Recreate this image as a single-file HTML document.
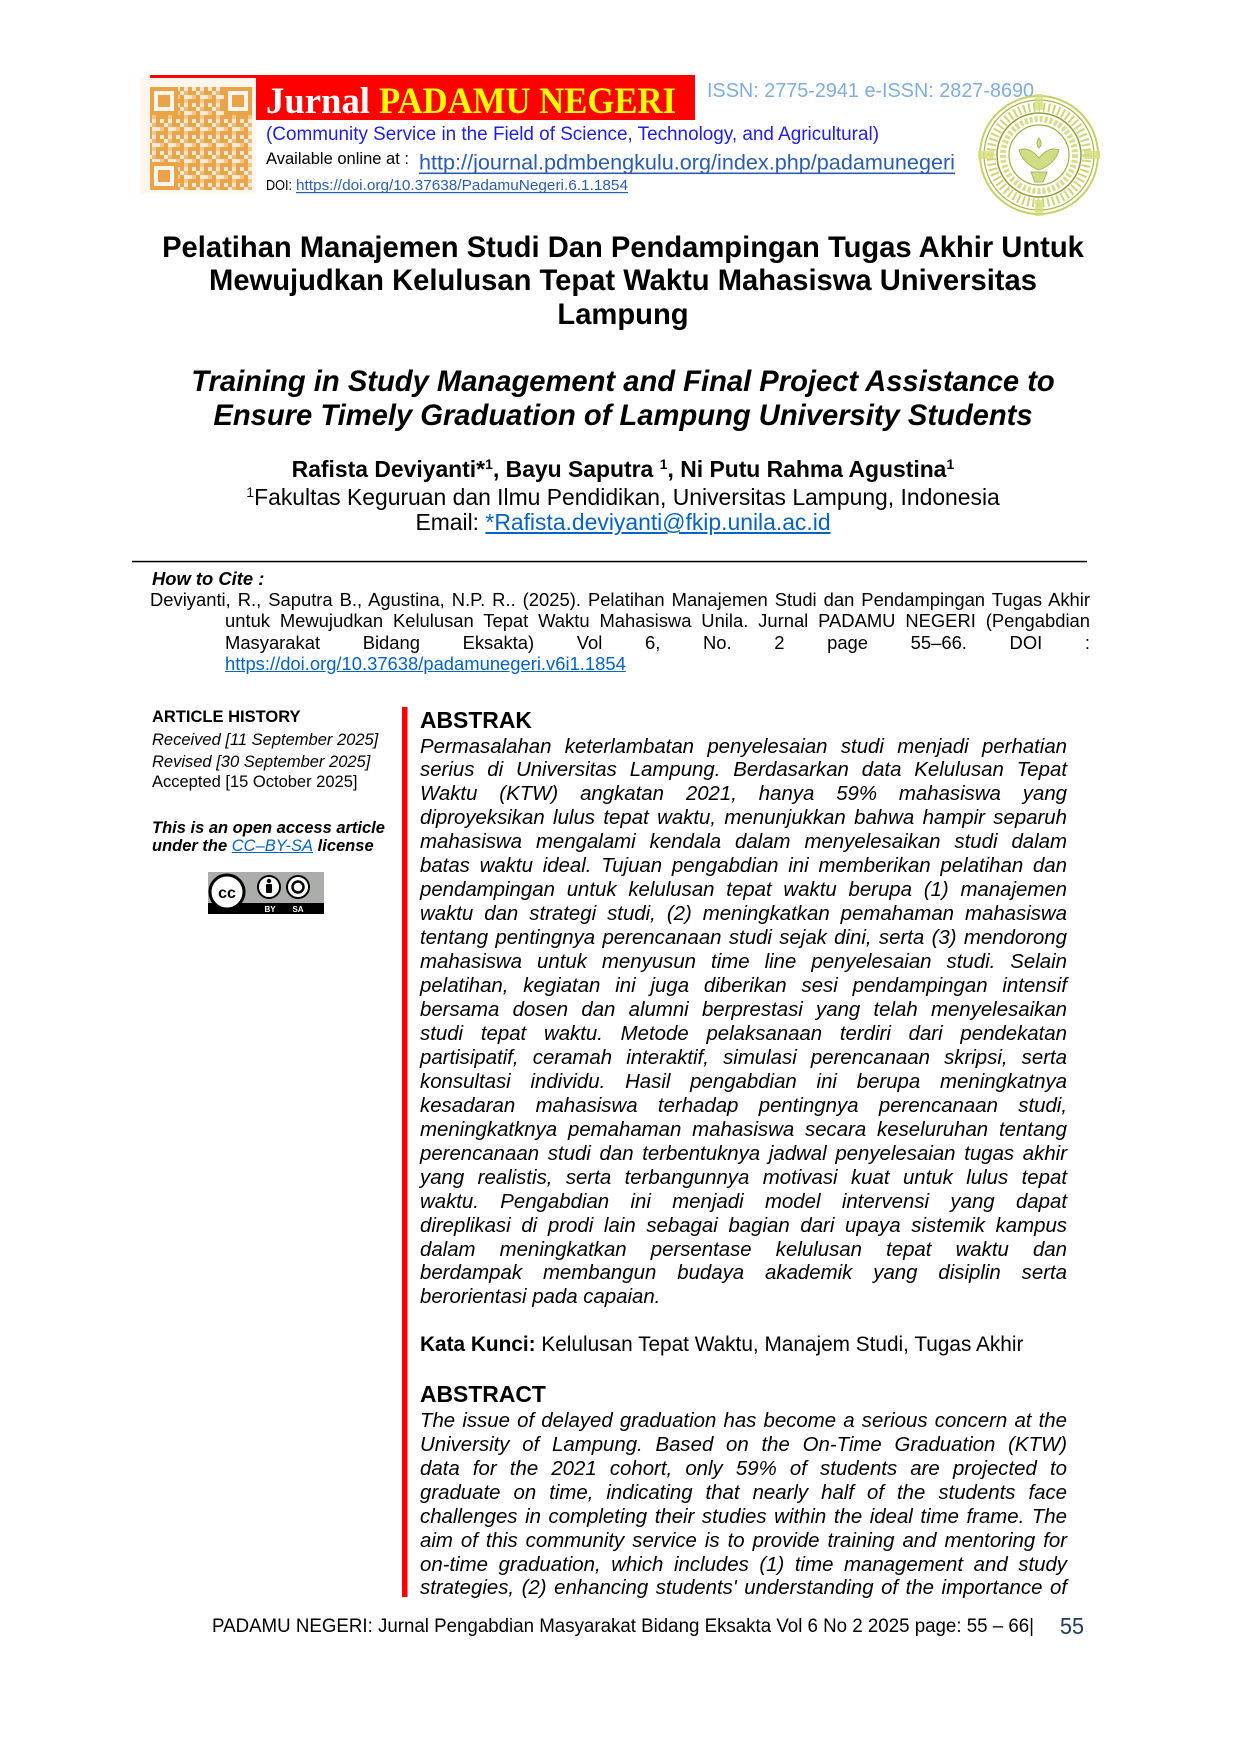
<!DOCTYPE html>
<html><head><meta charset="utf-8">
<style>
html,body{margin:0;padding:0;background:#fff;}
#pg{position:relative;width:1240px;height:1754px;overflow:hidden;font-family:"Liberation Sans",Arial,sans-serif;color:#000;background:#fff;}
.a{position:absolute;white-space:nowrap;line-height:1;}
.c{left:0;width:1246px;text-align:center;}
.j{position:absolute;text-align:justify;text-align-last:justify;}
.lk{color:#0563c1;text-decoration:underline;}
sup{font-size:0.62em;vertical-align:0.55em;line-height:0;}
svg{position:absolute;left:0;top:0;}
</style></head><body><div id="pg">
<svg width="1240" height="1754" viewBox="0 0 1240 1754" xmlns="http://www.w3.org/2000/svg">
<defs>
<pattern id="qr" x="148" y="87" width="16" height="16" patternUnits="userSpaceOnUse">
<rect width="16" height="16" fill="#f8ead6"/>
<rect x="0" y="0" width="4" height="4" fill="#eaa447"/>
<rect x="8" y="0" width="4" height="8" fill="#eaa447"/>
<rect x="4" y="4" width="4" height="4" fill="#f0bb70"/>
<rect x="12" y="4" width="4" height="4" fill="#eaa447"/>
<rect x="0" y="8" width="4" height="8" fill="#eaa447"/>
<rect x="8" y="12" width="8" height="4" fill="#eaa447"/>
<rect x="12" y="8" width="4" height="4" fill="#f3c98a"/>
<rect x="4" y="12" width="4" height="4" fill="#f3c98a"/>
</pattern>
</defs>
<!-- red banner -->
<rect x="150" y="75" width="545" height="45" fill="#ff0000"/>
<!-- QR -->
<rect x="140" y="78" width="116" height="116" fill="#fcf6ee"/>
<rect x="150" y="87" width="102" height="103" fill="url(#qr)"/>
<g fill="#eaa447">
<rect x="150" y="87" width="28" height="28"/><rect x="154" y="91" width="20" height="20" fill="#fcf6ee"/><rect x="158" y="95" width="12" height="12"/>
<rect x="224" y="87" width="28" height="28"/><rect x="228" y="91" width="20" height="20" fill="#fcf6ee"/><rect x="232" y="95" width="12" height="12"/>
<rect x="150" y="162" width="28" height="28"/><rect x="154" y="166" width="20" height="20" fill="#fcf6ee"/><rect x="158" y="170" width="12" height="12"/>
</g>
<!-- banner text -->
<text x="266" y="113" font-family="Liberation Serif, serif" font-weight="bold" font-size="37" fill="#ffffff" textLength="104" lengthAdjust="spacingAndGlyphs">Jurnal</text>
<text x="379" y="113" font-family="Liberation Serif, serif" font-weight="bold" font-size="37" fill="#ffff00" textLength="297" lengthAdjust="spacingAndGlyphs">PADAMU NEGERI</text>
<text x="707" y="97" font-family="Liberation Sans, sans-serif" font-size="20" fill="#7eaee0" textLength="327" lengthAdjust="spacingAndGlyphs">ISSN: 2775-2941 e-ISSN: 2827-8690</text>
<text x="266" y="140" font-family="Liberation Sans, sans-serif" font-size="19" fill="#1f1fe0" textLength="613" lengthAdjust="spacingAndGlyphs">(Community Service in the Field of Science, Technology, and Agricultural)</text>
<text x="266" y="164" font-family="Liberation Sans, sans-serif" font-size="17" fill="#000" textLength="143" lengthAdjust="spacingAndGlyphs">Available online at :</text>
<text x="419" y="169.5" font-family="Liberation Sans, sans-serif" font-size="21" fill="#2a5db0" textLength="536" lengthAdjust="spacingAndGlyphs">http://journal.pdmbengkulu.org/index.php/padamunegeri</text>
<rect x="419" y="172.5" width="536" height="1.6" fill="#2a5db0"/>
<text x="266" y="190" font-family="Liberation Sans, sans-serif" font-size="15" fill="#000" textLength="26" lengthAdjust="spacingAndGlyphs">DOI:</text>
<text x="296" y="190" font-family="Liberation Sans, sans-serif" font-size="15" fill="#2a5db0" textLength="332" lengthAdjust="spacingAndGlyphs">https://doi.org/10.37638/PadamuNegeri.6.1.1854</text>
<rect x="296" y="192" width="332" height="1.2" fill="#2a5db0"/>
<!-- logo -->
<g fill="none">
<circle cx="1039" cy="155" r="59" stroke="#c9cf62" stroke-width="2"/>
<circle cx="1039" cy="155" r="55" stroke="#a7b440" stroke-width="1.2"/>
<circle cx="1039" cy="155" r="48" stroke="#c3cb55" stroke-width="9" stroke-dasharray="2 3" opacity="0.8"/>
<circle cx="1039" cy="155" r="42" stroke="#8f9e32" stroke-width="1.5"/>
<circle cx="1039" cy="155" r="36" stroke="#c6cf5a" stroke-width="6" stroke-dasharray="3 2" opacity="0.7"/>
<circle cx="1039" cy="155" r="30" stroke="#9fae3c" stroke-width="1.2"/>
</g>
<g fill="#d6de7c" opacity="0.8">
<rect x="1035" y="94" width="8" height="16"/><rect x="1035" y="200" width="8" height="16"/>
<rect x="978" y="151" width="16" height="8"/><rect x="1084" y="151" width="16" height="8"/>
</g>
<path d="M1039 138 q-4 6 0 10 q4-4 0-10z M1019 150 q10 -4 20 8 q10 -12 20 -8 q-4 14 -20 20 q-16 -6 -20 -20z M1031 172 h16 l-4 10 h-8z" fill="#cbd670" stroke="#9aab3a" stroke-width="1" opacity="0.85"/>
<!-- HR -->
<rect x="132" y="560.8" width="955" height="1.5" fill="#000"/>
<!-- red bar -->
<rect x="402" y="707" width="5.5" height="890" fill="#ff0000"/>
<!-- CC badge -->
<rect x="208" y="872" width="116" height="42" fill="#abadaa"/>
<rect x="208" y="903" width="116" height="11" fill="#000"/>
<circle cx="227" cy="892" r="17" fill="#fff" stroke="#000" stroke-width="3"/>
<text x="227" y="898" text-anchor="middle" font-family="Liberation Sans, sans-serif" font-weight="bold" font-size="16" fill="#000">cc</text>
<circle cx="269" cy="887" r="11" fill="#fff" stroke="#000" stroke-width="2"/>
<circle cx="269" cy="881" r="2.2" fill="#000"/>
<rect x="266" y="884" width="6" height="9" rx="1" fill="#000"/>
<circle cx="298" cy="887" r="11" fill="#fff" stroke="#000" stroke-width="2"/>
<circle cx="298" cy="887" r="5.5" fill="none" stroke="#000" stroke-width="2.5"/>
<text x="270" y="912" text-anchor="middle" font-family="Liberation Sans, sans-serif" font-weight="bold" font-size="8" fill="#fff">BY</text>
<text x="298" y="912" text-anchor="middle" font-family="Liberation Sans, sans-serif" font-weight="bold" font-size="8" fill="#fff">SA</text>
<!-- footer -->
<text x="212" y="1632" font-family="Liberation Sans, sans-serif" font-size="19" fill="#000" textLength="822" lengthAdjust="spacingAndGlyphs">PADAMU NEGERI: Jurnal Pengabdian Masyarakat Bidang Eksakta Vol 6 No 2 2025 page: 55 – 66|</text>
<text x="1060" y="1634" font-family="Liberation Sans, sans-serif" font-size="23" fill="#1f3864" textLength="24" lengthAdjust="spacingAndGlyphs">55</text>
</svg>

<!-- Titles -->
<div class="a c" style="top:233.7px;font-size:29.17px;font-weight:bold;">Pelatihan Manajemen Studi Dan Pendampingan Tugas Akhir Untuk</div>
<div class="a c" style="top:266.7px;font-size:29.17px;font-weight:bold;">Mewujudkan Kelulusan Tepat Waktu Mahasiswa Universitas</div>
<div class="a c" style="top:300.7px;font-size:29.17px;font-weight:bold;">Lampung</div>
<div class="a c" style="top:367.8px;font-size:29.17px;font-weight:bold;font-style:italic;">Training in Study Management and Final Project Assistance to</div>
<div class="a c" style="top:401.8px;font-size:29.17px;font-weight:bold;font-style:italic;">Ensure Timely Graduation of Lampung University Students</div>
<div class="a c" style="top:457.6px;font-size:22.9px;font-weight:bold;">Rafista Deviyanti*<sup>1</sup>, Bayu Saputra <sup>1</sup>, Ni Putu Rahma Agustina<sup>1</sup></div>
<div class="a c" style="top:485.6px;font-size:22.9px;"><sup>1</sup>Fakultas Keguruan dan Ilmu Pendidikan, Universitas Lampung, Indonesia</div>
<div class="a c" style="top:511.2px;font-size:22.9px;">Email: <span class="lk">*Rafista.deviyanti@fkip.unila.ac.id</span></div>

<!-- How to cite -->
<div class="a" style="left:152px;top:570.2px;font-size:18.4px;font-weight:bold;font-style:italic;">How to Cite :</div>
<div class="j" style="left:150px;top:590.9px;width:940px;font-size:18.4px;line-height:1;">Deviyanti, R., Saputra B., Agustina, N.P. R.. (2025). Pelatihan Manajemen Studi dan Pendampingan Tugas Akhir</div>
<div class="j" style="left:225px;top:611.9px;width:865px;font-size:18.4px;line-height:1;">untuk Mewujudkan Kelulusan Tepat Waktu Mahasiswa Unila. Jurnal PADAMU NEGERI (Pengabdian</div>
<div class="j" style="left:225px;top:633.9px;width:865px;font-size:18.4px;line-height:1;">Masyarakat Bidang Eksakta) Vol 6, No. 2 page 55–66. DOI :</div>
<div class="a" style="left:225px;top:654.9px;font-size:18.4px;"><span class="lk">https://doi.org/10.37638/padamunegeri.v6i1.1854</span></div>

<!-- Left column -->
<div class="a" style="left:152px;top:709px;font-size:16.5px;font-weight:bold;">ARTICLE HISTORY</div>
<div class="a" style="left:152px;top:732px;font-size:16.5px;font-style:italic;">Received [11 September 2025]</div>
<div class="a" style="left:152px;top:754px;font-size:16.5px;font-style:italic;">Revised [30 September 2025]</div>
<div class="a" style="left:152px;top:774px;font-size:16.5px;">Accepted [15 October 2025]</div>
<div class="a" style="left:152px;top:820px;font-size:16.5px;font-weight:bold;font-style:italic;">This is an open access article</div>
<div class="a" style="left:152px;top:838px;font-size:16.5px;font-weight:bold;font-style:italic;">under the <span class="lk" style="font-weight:normal;">CC–BY-SA</span> license</div>

<!-- ABSTRAK -->
<div class="a" style="left:420px;top:709px;font-size:22.9px;font-weight:bold;">ABSTRAK</div>
<div class="j" style="left:420px;top:735.5px;width:647px;font-size:20.4px;line-height:23.95px;font-style:italic;">Permasalahan keterlambatan penyelesaian studi menjadi perhatian<br>serius di Universitas Lampung. Berdasarkan data Kelulusan Tepat<br>Waktu (KTW) angkatan 2021, hanya 59% mahasiswa yang<br>diproyeksikan lulus tepat waktu, menunjukkan bahwa hampir separuh<br>mahasiswa mengalami kendala dalam menyelesaikan studi dalam<br>batas waktu ideal. Tujuan pengabdian ini memberikan pelatihan dan<br>pendampingan untuk kelulusan tepat waktu berupa (1) manajemen<br>waktu dan strategi studi, (2) meningkatkan pemahaman mahasiswa<br>tentang pentingnya perencanaan studi sejak dini, serta (3) mendorong<br>mahasiswa untuk menyusun time line penyelesaian studi. Selain<br>pelatihan, kegiatan ini juga diberikan sesi pendampingan intensif<br>bersama dosen dan alumni berprestasi yang telah menyelesaikan<br>studi tepat waktu. Metode pelaksanaan terdiri dari pendekatan<br>partisipatif, ceramah interaktif, simulasi perencanaan skripsi, serta<br>konsultasi individu. Hasil pengabdian ini berupa meningkatnya<br>kesadaran mahasiswa terhadap pentingnya perencanaan studi,<br>meningkatknya pemahaman mahasiswa secara keseluruhan tentang<br>perencanaan studi dan terbentuknya jadwal penyelesaian tugas akhir<br>yang realistis, serta terbangunnya motivasi kuat untuk lulus tepat<br>waktu. Pengabdian ini menjadi model intervensi yang dapat<br>direplikasi di prodi lain sebagai bagian dari upaya sistemik kampus<br>dalam meningkatkan persentase kelulusan tepat waktu dan<br>berdampak membangun budaya akademik yang disiplin serta</div>
<div class="a" style="left:420px;top:1286.4px;font-size:20.4px;line-height:23.95px;font-style:italic;">berorientasi pada capaian.</div>

<div class="a" style="left:420px;top:1335px;font-size:20.8px;"><b>Kata Kunci:</b> Kelulusan Tepat Waktu, Manajem Studi, Tugas Akhir</div>

<!-- ABSTRACT -->
<div class="a" style="left:420px;top:1383px;font-size:22.9px;font-weight:bold;">ABSTRACT</div>
<div class="j" style="left:420px;top:1409.8px;width:647px;font-size:20.4px;line-height:23.95px;font-style:italic;">The issue of delayed graduation has become a serious concern at the<br>University of Lampung. Based on the On-Time Graduation (KTW)<br>data for the 2021 cohort, only 59% of students are projected to<br>graduate on time, indicating that nearly half of the students face<br>challenges in completing their studies within the ideal time frame. The<br>aim of this community service is to provide training and mentoring for<br>on-time graduation, which includes (1) time management and study<br>strategies, (2) enhancing students' understanding of the importance of</div>

</div></body></html>
